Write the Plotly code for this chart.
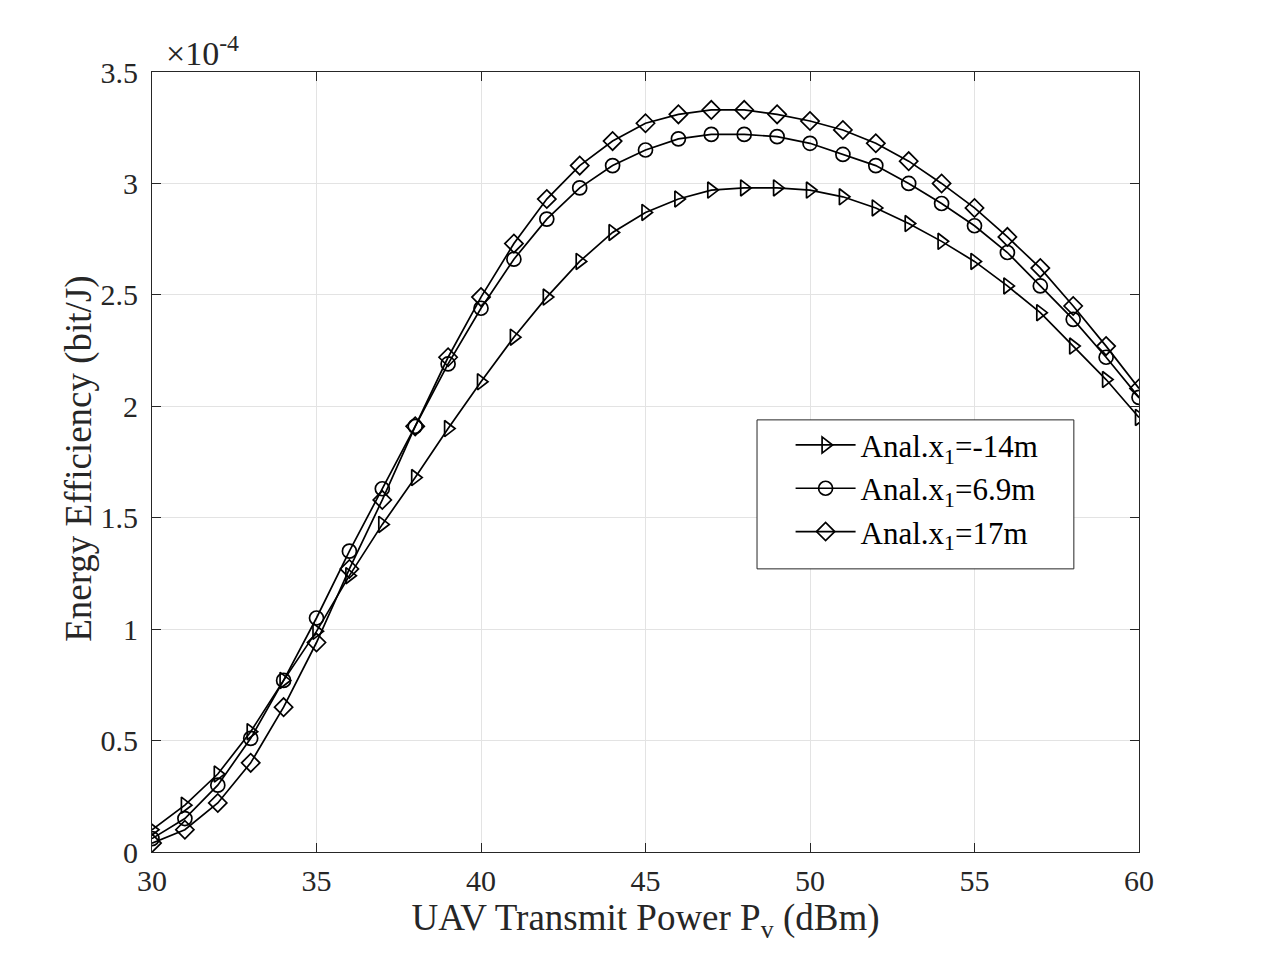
import plotly.graph_objects as go

# Transmit power (dBm)
power_dbm = list(range(30, 61))

# Energy efficiency in units of 1e-4 bit/J
ee_x1_m14 = [0.10, 0.21, 0.35, 0.54, 0.77, 0.99, 1.24, 1.47, 1.68, 1.90,
             2.11, 2.31, 2.49, 2.65, 2.78, 2.87, 2.93, 2.97, 2.98, 2.98,
             2.97, 2.94, 2.89, 2.82, 2.74, 2.65, 2.54, 2.42, 2.27, 2.12, 1.95]
ee_x1_69 = [0.06, 0.15, 0.30, 0.51, 0.77, 1.05, 1.35, 1.63, 1.91, 2.19,
            2.44, 2.66, 2.84, 2.98, 3.08, 3.15, 3.20, 3.22, 3.22, 3.21,
            3.18, 3.13, 3.08, 3.00, 2.91, 2.81, 2.69, 2.54, 2.39, 2.22, 2.04]
ee_x1_17 = [0.04, 0.10, 0.22, 0.40, 0.65, 0.94, 1.27, 1.58, 1.91, 2.22,
            2.49, 2.73, 2.93, 3.08, 3.19, 3.27, 3.31, 3.33, 3.33, 3.31,
            3.28, 3.24, 3.18, 3.10, 3.00, 2.89, 2.76, 2.62, 2.45, 2.27, 2.08]

series_names = ["Anal.x<sub>1</sub>=-14m", "Anal.x<sub>1</sub>=6.9m", "Anal.x<sub>1</sub>=17m"]
series_values = [ee_x1_m14, ee_x1_69, ee_x1_17]
series_symbols = ["triangle-right-open", "circle-open", "diamond-open"]

y_ticks = [0, 0.5, 1, 1.5, 2, 2.5, 3, 3.5]
y_tick_text = ["0", "0.5", "1", "1.5", "2", "2.5", "3", "3.5"]
x_ticks = [30, 35, 40, 45, 50, 55, 60]

FONT = "Liberation Serif, Times New Roman, serif"
AX = "#262626"

fig = go.Figure()
for name, vals, sym in zip(series_names, series_values, series_symbols):
    fig.add_trace(go.Scatter(
        x=power_dbm, y=vals, name=name, mode="lines+markers",
        line=dict(color="black", width=1.7),
        marker=dict(symbol=sym, size=14, color="black",
                    line=dict(color="black", width=1.7)),
    ))

axis_common = dict(
    showline=True, linecolor=AX, linewidth=1.2, mirror="ticks",
    ticks="inside", ticklen=9, tickcolor=AX, tickwidth=1,
    showgrid=True, gridcolor="#e3e3e3", gridwidth=1, zeroline=False,
    tickfont=dict(family=FONT, size=30, color=AX),
)

fig.update_layout(
    width=1261, height=961,
    paper_bgcolor="white", plot_bgcolor="white",
    margin=dict(l=152, r=122, t=72, b=109),
    font=dict(family=FONT, size=30, color=AX),
    xaxis=dict(range=[30, 60], tickvals=x_ticks, ticklabelstandoff=2,
               title=dict(text="UAV Transmit Power P<sub>v</sub> (dBm)",
                          font=dict(family=FONT, size=37, color=AX),
                          standoff=8),
               **axis_common),
    yaxis=dict(range=[0, 3.5], tickvals=y_ticks, ticktext=y_tick_text,
               ticklabelstandoff=7,
               **axis_common),
    legend=dict(x=0.647, y=0.556, xanchor="left", yanchor="top",
                bgcolor="rgba(0,0,0,0)", borderwidth=0,
                font=dict(family=FONT, size=31, color="black"),
                tracegroupgap=0, itemwidth=60),
    showlegend=True,
)

# legend frame
fig.add_shape(type="rect", xref="paper", yref="paper",
              x0=0.613, x1=0.934, y0=0.363, y1=0.554,
              fillcolor="white", line=dict(color=AX, width=1), layer="above")

# y-axis title
fig.add_annotation(
    xref="paper", yref="paper", x=-0.074, y=0.504, xanchor="center", yanchor="middle",
    text="Energy Efficiency (bit/J)", textangle=-90, showarrow=False,
    font=dict(family=FONT, size=37, color=AX),
)

# exponent label
fig.add_annotation(
    xref="paper", yref="paper", x=0.0, y=1.0, xanchor="left", yanchor="bottom",
    xshift=12, yshift=-2,
    text="\u00d710<sup>-4</sup>", showarrow=False,
    font=dict(family=FONT, size=34, color=AX),
)

fig.write_html("out.html")
